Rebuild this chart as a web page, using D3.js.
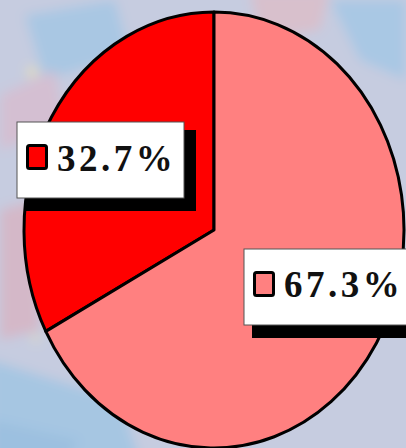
<!DOCTYPE html>
<html lang="en">
<head>
<meta charset="UTF-8">
<title>Pie</title>
<script src="https://d3js.org/d3.v7.min.js"></script>
<style>
    body { margin: 0; background: #c6cce0; overflow: hidden; }
    .slice { stroke: #000; stroke-width: 3px; stroke-linejoin: round; }
    .label-text { font-family: "Liberation Serif", "Times New Roman", serif; font-weight: 700; font-size: 37px; letter-spacing: 3.5px; fill: #111; }
</style>
</head>
<body>
<svg id="chart" width="406" height="448"></svg>
<script>
    const width = 406;
    const height = 448;

    const categories = ["A", "B"];
    const values = [32.7, 67.3];
    const labels = ["32.7%", "67.3%"];
    const colors = ["#ff0000", "#ff8080"];

    const svg = d3.select("#chart");

    // faded background picture (approximation)
    const defs = svg.append("defs");
    defs.append("filter").attr("id", "blur")
      .append("feGaussianBlur").attr("stdDeviation", 6);
    const bg = svg.append("g").attr("filter", "url(#blur)");
    bg.append("rect").attr("x", -20).attr("y", -20).attr("width", 450).attr("height", 490).attr("fill", "#c6cce0");
    bg.append("path").attr("d", "M25,15 L115,0 L130,55 L45,80 Z").attr("fill", "#a9c7e3");
    bg.append("path").attr("d", "M-10,360 L120,400 L140,460 L-10,460 Z").attr("fill", "#a6c6e2");
    bg.append("path").attr("d", "M-10,420 L80,440 L60,470 L-10,470 Z").attr("fill", "#9cc0e0");
    bg.append("path").attr("d", "M0,95 L55,70 L65,125 L0,150 Z").attr("fill", "#d4bfd2");
    bg.append("path").attr("d", "M0,210 L35,200 L40,330 L0,340 Z").attr("fill", "#d4b8c8");
    bg.append("path").attr("d", "M330,0 L406,0 L406,80 L360,60 Z").attr("fill", "#a9c8e4");
    bg.append("path").attr("d", "M250,-10 L330,-10 L320,30 L260,40 Z").attr("fill", "#d8c0cc");
    bg.append("circle").attr("cx", 32).attr("cy", 72).attr("r", 5).attr("fill", "#e8e0b0");
    bg.append("circle").attr("cx", 36).attr("cy", 338).attr("r", 4).attr("fill", "#e0dcc0");

    // pie geometry
    const cx = 214, cy = 230, rx = 190, ry = 218;
    const pie = d3.pie().sort(null).startAngle(-values[0] / 100 * 2 * Math.PI)
      .endAngle(2 * Math.PI - values[0] / 100 * 2 * Math.PI);
    const arc = d3.arc().innerRadius(0).outerRadius(rx);
    const arcs = pie(values);

    const pieG = svg.append("g")
      .attr("transform", `translate(${cx},${cy}) scale(1,${ry / rx})`);
    pieG.selectAll("path")
      .data(arcs)
      .enter()
      .append("path")
      .attr("class", "slice")
      .attr("d", arc)
      .attr("fill", (d, i) => colors[i])
      .attr("vector-effect", "non-scaling-stroke");

    // data labels
    const boxes = [
      { x: 17, y: 122, w: 167, h: 76, base: 49 },
      { x: 244, y: 249, w: 167, h: 76, base: 48 }
    ];
    const lab = svg.selectAll(".lab")
      .data(arcs)
      .enter()
      .append("g")
      .attr("class", "lab")
      .attr("transform", (d, i) => `translate(${boxes[i].x},${boxes[i].y})`);

    lab.append("rect")
      .attr("x", 8).attr("y", 8)
      .attr("width", (d, i) => boxes[i].w + 4)
      .attr("height", (d, i) => boxes[i].h + 5)
      .attr("fill", "#000");
    lab.append("rect")
      .attr("width", (d, i) => boxes[i].w)
      .attr("height", (d, i) => boxes[i].h)
      .attr("fill", "#fff")
      .attr("stroke", "#555")
      .attr("stroke-width", 1);
    lab.append("rect")
      .attr("x", 10.5).attr("y", 23.5)
      .attr("width", 19).attr("height", 23)
      .attr("rx", 2)
      .attr("fill", (d, i) => colors[i])
      .attr("stroke", "#000")
      .attr("stroke-width", 3);
    lab.append("text")
      .attr("class", "label-text")
      .attr("x", 40)
      .attr("y", (d, i) => boxes[i].base)
      .text((d, i) => labels[i]);
</script>
</body>
</html>
